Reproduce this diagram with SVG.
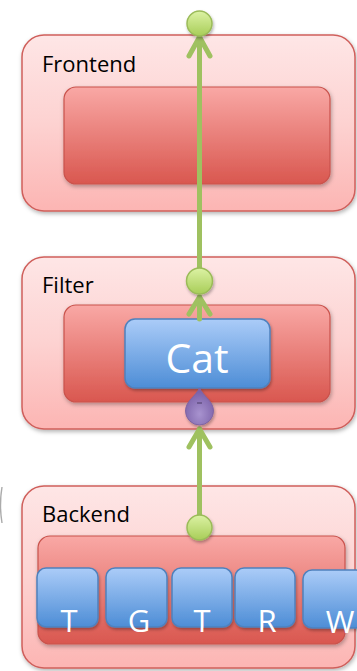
<svg xmlns="http://www.w3.org/2000/svg" width="357" height="671" viewBox="0 0 357 671">
<defs>
<linearGradient id="gOuter" x1="0" y1="0" x2="0" y2="1"><stop offset="0" stop-color="#fee6e6"/><stop offset="0.5" stop-color="#fdd2d1"/><stop offset="1" stop-color="#fcb5b3"/></linearGradient>
<linearGradient id="gInner" x1="0" y1="0" x2="0" y2="1"><stop offset="0" stop-color="#f9a8a5"/><stop offset="1" stop-color="#d9574f"/></linearGradient>
<linearGradient id="gBlue" x1="0" y1="0" x2="0" y2="1"><stop offset="0" stop-color="#abccf8"/><stop offset="1" stop-color="#4d8dd6"/></linearGradient>
<linearGradient id="gGreen" x1="0" y1="0" x2="0" y2="1"><stop offset="0" stop-color="#dcf2a4"/><stop offset="1" stop-color="#a8cd58"/></linearGradient>
<radialGradient id="gPurple" cx="0.5" cy="0.7" r="0.6"><stop offset="0" stop-color="#a893cf"/><stop offset="1" stop-color="#7c62a9"/></radialGradient>
<filter id="sh" x="-10%" y="-10%" width="125%" height="130%"><feDropShadow dx="1" dy="2" stdDeviation="2" flood-color="#000" flood-opacity="0.3"/></filter>
<filter id="shs" x="-20%" y="-20%" width="150%" height="150%"><feDropShadow dx="1" dy="2" stdDeviation="1.5" flood-color="#000" flood-opacity="0.3"/></filter>
</defs>
<style>
.outer{fill:url(#gOuter);stroke:#cf5f5b;stroke-width:1.5;filter:url(#sh)}
.inner{fill:url(#gInner);stroke:#c9524c;stroke-width:1.2;filter:url(#sh)}
.blue{fill:url(#gBlue);stroke:#4f81bd;stroke-width:1.5;filter:url(#shs)}
.lbl{font-family:"Open Sans","Noto Sans",sans-serif;font-size:22px;fill:#000}
.wt{font-family:"Open Sans","Noto Sans",sans-serif;fill:#fff;text-anchor:middle}
.ln{stroke:#9fc160;stroke-width:5;fill:none;stroke-linecap:round;stroke-linejoin:round}
.port{fill:url(#gGreen);stroke:#9bbb59;stroke-width:1.5;filter:url(#shs)}
</style>
<path d="M2,487 Q-1,505 2,523" fill="none" stroke="#888" stroke-width="1.4" opacity="0.7"/>
<g id="frontend">
<rect class="outer" x="22" y="35" width="333" height="176" rx="22"/>
<rect class="inner" x="64" y="87" width="266" height="97" rx="12"/>
<text class="lbl" x="42" y="72">Frontend</text>
</g>
<g id="filter">
<rect class="outer" x="22" y="257" width="333" height="172" rx="22"/>
<rect class="inner" x="64" y="305" width="266" height="97" rx="12"/>
<text class="lbl" x="42" y="293">Filter</text>
</g>
<g id="cat">
<rect class="blue" x="125" y="319" width="145" height="69" rx="10"/>
<text class="wt" x="197" y="373" font-size="41">Cat</text>
</g>
<g id="backend">
<rect class="outer" x="22" y="486" width="333" height="182" rx="22"/>
<rect class="inner" x="38" y="536" width="307" height="108" rx="12"/>
<text class="lbl" x="42" y="522">Backend</text>
</g>
<g id="b1"><rect class="blue" x="37" y="568" width="61" height="59" rx="9"/><text class="wt" x="69" y="632" font-size="31">T</text></g>
<g id="b2"><rect class="blue" x="106" y="568" width="61" height="59" rx="9"/><text class="wt" x="139" y="632" font-size="31">G</text></g>
<g id="b3"><rect class="blue" x="172" y="568" width="60" height="59" rx="9"/><text class="wt" x="202" y="632" font-size="31">T</text></g>
<g id="b4"><rect class="blue" x="235" y="568" width="60" height="59" rx="9"/><text class="wt" x="267" y="632" font-size="31">R</text></g>
<g id="b5"><rect class="blue" x="303" y="570" width="62" height="58" rx="9"/><text class="wt" x="340" y="633" font-size="31">W</text></g>
<g id="connectors">
<line class="ln" x1="199.5" y1="281" x2="199.5" y2="37"/>
<polyline class="ln" points="189,56 199.5,37 210,56"/>
<line class="ln" x1="199.5" y1="319" x2="199.5" y2="297"/>
<polyline class="ln" points="189,314 199.5,297 210,314"/>
<line class="ln" x1="199.5" y1="527" x2="199.5" y2="429"/>
<polyline class="ln" points="189,447 199.5,429 210,447"/>
<circle class="port" cx="199.5" cy="23.5" r="12.5"/>
<circle class="port" cx="199.5" cy="281" r="13"/>
<circle class="port" cx="199.5" cy="527.5" r="12.5"/>
<path d="M199.5,388 C203,396 213.5,401 213.5,411 A14,14 0 0 1 185.5,411 C185.5,401 196,396 199.5,388 Z" fill="url(#gPurple)" stroke="#8064a2" stroke-width="1" filter="url(#shs)"/>
<line x1="197" y1="403" x2="202" y2="403" stroke="#4a3a66" stroke-width="1"/>
</g>
</svg>
